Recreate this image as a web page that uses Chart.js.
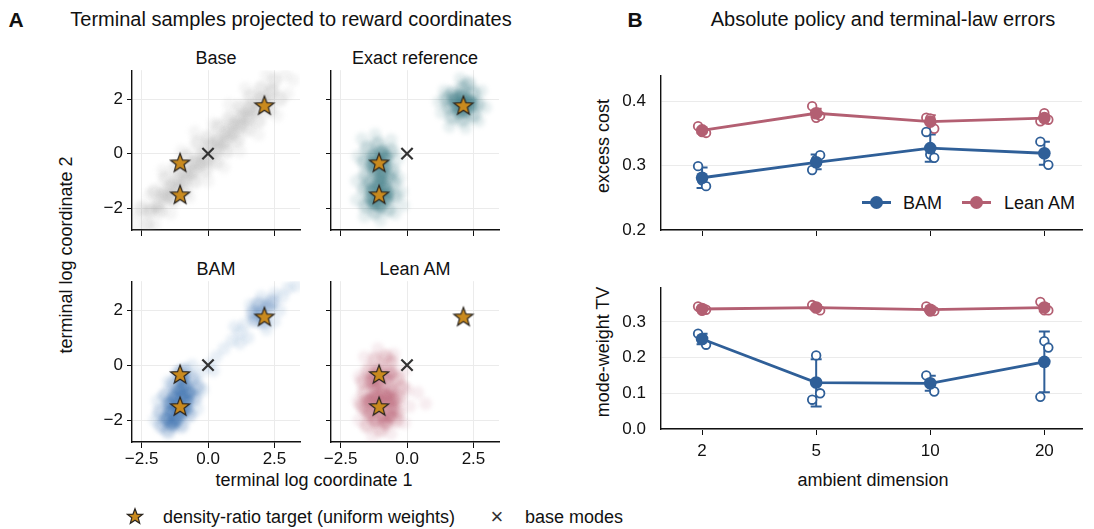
<!DOCTYPE html>
<html>
<head>
<meta charset="utf-8">
<script src="https://cdn.jsdelivr.net/npm/chart.js@4/dist/chart.umd.min.js"></script>
<style>
  body { margin: 0; background: #fff; width: 1094px; height: 529px; position: relative; overflow: hidden;
         font-family: "Liberation Sans", Arial, sans-serif; color: #111; }
  canvas.plot { position: absolute; }
  .t { position: absolute; white-space: nowrap; line-height: 1; transform: translate(-50%, -50%); }
  .l { position: absolute; white-space: nowrap; line-height: 1; transform: translate(0, -50%); font-size: 18px; }
  .rot { transform: translate(-50%, -50%) rotate(-90deg); }
  .sw { position: absolute; }
</style>
</head>
<body>
<div class="t" style="left:16px;top:19px;font-size:21px;font-weight:bold">A</div>
<div class="t" style="left:291px;top:19px;font-size:20px">Terminal samples projected to reward coordinates</div>
<div class="t" style="left:635px;top:19px;font-size:21px;font-weight:bold">B</div>
<div class="t" style="left:883px;top:19px;font-size:20px">Absolute policy and terminal-law errors</div>

<div class="t" style="left:216px;top:58px;font-size:18px">Base</div>
<div class="t" style="left:415px;top:58px;font-size:18px">Exact reference</div>
<div class="t" style="left:216px;top:269px;font-size:18px">BAM</div>
<div class="t" style="left:415px;top:269px;font-size:18px">Lean AM</div>
<div class="t rot" style="left:66px;top:255px;font-size:18px">terminal log coordinate 2</div>
<div class="t" style="left:314px;top:480px;font-size:18px">terminal log coordinate 1</div>

<div class="t rot" style="left:603px;top:146px;font-size:18px">excess cost</div>
<div class="t rot" style="left:603px;top:352px;font-size:18px">mode-weight TV</div>
<div class="t" style="left:873px;top:480px;font-size:18px">ambient dimension</div>

<!-- legend panel B -->
<div class="sw" style="left:862px;top:201px;width:29px;height:3px;background:#2f5f98"></div>
<div class="sw" style="left:870px;top:196px;width:13px;height:13px;border-radius:50%;background:#2f5f98"></div>
<div class="l" style="left:903px;top:203px">BAM</div>
<div class="sw" style="left:962px;top:201px;width:29px;height:3px;background:#b35f72"></div>
<div class="sw" style="left:970px;top:196px;width:13px;height:13px;border-radius:50%;background:#b35f72"></div>
<div class="l" style="left:1004px;top:203px">Lean AM</div>

<!-- bottom legend -->
<canvas id="legStar" class="sw" width="18" height="18" style="left:126px;top:507px"></canvas>
<div class="l" style="left:163px;top:517px">density-ratio target (uniform weights)</div>
<div class="t" style="left:497px;top:517px;font-size:22px;color:#333">×</div>
<div class="l" style="left:525px;top:517px">base modes</div>

<script>
// ---------- panel A data (terminal samples) ----------
const TARGETS = [[-1.05, -0.32], [-1.05, -1.49], [2.12, 1.78]];
const BASE_MODES = [[0, 0]];

// each cloud: dense core, middle ring, sparse edge
const BASE_CORE = [[-2.2,-2.1],[-1.9,-1.9],[-1.7,-1.5],[-1.5,-1.6],[-1.4,-1.2],[-1.2,-1.3],[-1.1,-0.9],
  [-0.9,-1.0],[-0.8,-0.6],[-0.6,-0.7],[-0.5,-0.3],[-0.3,-0.4],[-0.2,0.0],[0.0,-0.2],[0.1,0.3],[0.3,0.1],
  [0.4,0.5],[0.6,0.4],[0.7,0.8],[0.9,0.7],[1.0,1.1],[1.2,1.0],[1.3,1.4],[1.5,1.3],[1.6,1.7],[1.8,1.6],
  [2.0,2.0],[2.2,1.9],[2.4,2.3]];
const BASE_MID = [[-2.5,-2.0],[-2.0,-1.4],[-1.6,-0.9],[-1.2,-0.5],[-0.8,-0.1],[-0.4,0.4],[0.0,0.6],
  [0.4,1.0],[0.8,1.3],[1.2,1.7],[1.6,2.1],[2.0,2.4],[2.5,2.7],[-2.3,-2.6],[-1.8,-2.1],[-1.3,-1.7],
  [-0.9,-1.4],[-0.5,-1.0],[-0.1,-0.6],[0.3,-0.3],[0.7,0.1],[1.1,0.5],[1.5,0.9],[1.9,1.2],[2.3,1.6],[2.7,2.0]];
const BASE_EDGE = [[-2.8,-2.8],[-2.7,-2.3],[-2.2,-1.5],[-1.7,-0.6],[-1.0,0.1],[-0.5,0.8],[0.2,1.1],
  [0.8,1.8],[1.4,2.4],[2.2,2.9],[2.9,2.9],[3.2,2.7],[3.0,2.2],[2.6,1.4],[1.9,0.7],[1.2,0.1],[0.6,-0.5],
  [0.0,-1.0],[-0.7,-1.6],[-1.4,-2.2],[-2.0,-2.6]];

const EXACT_CORE = [[2.1,1.85],[1.9,1.75],[2.3,1.95],[2.05,2.1],[2.2,1.6],[1.8,2.0],[2.4,1.8],[2.0,1.55],
  [-1.05,-0.3],[-1.25,-0.1],[-0.85,-0.45],[-1.2,-0.6],[-0.95,0.05],[-1.3,-0.4],[-0.8,-0.15],[-1.05,-1.5],
  [-1.3,-1.35],[-0.8,-1.65],[-1.2,-1.8],[-0.85,-1.25],[-1.35,-1.65],[-0.75,-1.45],[-1.0,-0.95],
  [-1.1,-1.15],[-0.95,-0.75],[-1.0,-1.9]];
const EXACT_MID = [[1.6,1.7],[1.7,2.2],[2.1,2.4],[2.5,2.2],[2.65,1.8],[2.5,1.4],[2.1,1.25],[1.7,1.35],
  [1.5,2.0],[2.3,2.55],[-1.6,-0.3],[-1.5,0.2],[-1.1,0.35],[-0.6,0.1],[-0.55,-0.6],[-1.55,-0.8],
  [-1.6,-1.3],[-1.55,-1.9],[-1.2,-2.15],[-0.7,-2.05],[-0.45,-1.55],[-0.5,-1.05],[-0.7,-0.85],[-1.4,-1.05]];
const EXACT_EDGE = [[1.3,1.5],[1.4,2.3],[2.0,2.75],[2.8,2.3],[2.95,1.7],[2.7,1.2],[2.2,0.95],[1.6,1.0],
  [1.2,1.9],[-1.85,-0.1],[-1.7,0.55],[-1.2,0.7],[-0.6,0.5],[-0.35,-0.2],[-0.3,-0.9],[-1.9,-1.0],
  [-1.9,-1.7],[-1.6,-2.3],[-1.0,-2.45],[-0.45,-2.2],[-0.2,-1.4],[-0.15,-1.9]];

const BAM_CORE = [[-1.2,-1.5],[-1.4,-1.7],[-1.0,-1.2],[-1.55,-1.95],[-1.25,-1.15],[-0.9,-0.8],
  [-1.05,-1.75],[-0.8,-1.3],[-1.45,-1.4],[-0.95,-0.5],[-1.2,-2.0],[-0.7,-1.0],[-1.1,-0.9],
  [-1.35,-2.15],[-0.85,-1.6]];
const BAM_MID = [[-1.75,-2.2],[-1.8,-1.7],[-1.6,-1.1],[-1.3,-0.7],[-0.9,-0.2],[-0.6,-0.5],[-0.5,-1.2],
  [-0.7,-1.8],[-1.0,-2.2],[-1.5,-2.4],[-0.4,-0.8],[-1.1,-0.3],[2.0,1.9],[1.8,1.65],[2.25,2.1],
  [2.1,1.6],[1.7,1.9],[2.4,2.3],[1.9,2.2]];
const BAM_EDGE = [[-2.0,-2.0],[-1.9,-1.3],[-1.5,-0.6],[-0.6,0.0],[-0.3,-0.3],[-0.2,-0.9],[-0.4,-1.6],
  [0.0,0.0],[0.3,0.3],[0.6,0.6],[0.9,0.9],[1.2,1.2],[1.4,1.5],[1.5,1.0],[1.2,0.8],[1.6,2.2],[2.0,2.5],
  [2.5,2.6],[2.8,2.5],[3.0,2.8],[3.3,2.9],[2.7,2.0],[2.5,1.6],[2.2,1.3],[1.0,1.4],[0.2,-0.2]];

const LEAN_CORE = [[-0.95,-1.05],[-1.2,-0.8],[-0.7,-1.35],[-1.1,-1.55],[-0.8,-0.5],[-1.3,-1.25],
  [-0.6,-0.9],[-1.0,-0.2],[-0.9,-1.85],[-1.35,-0.6],[-0.55,-1.6],[-1.2,-2.0],[-0.75,-1.1],
  [-1.15,-1.15],[-0.8,-2.1],[-1.4,-1.75],[-0.6,-0.3],[-1.45,-1.3],[-1.25,-0.35],[-0.5,-1.25],
  [-0.95,-1.4],[-0.65,-1.85],[-1.05,-0.65]];
const LEAN_MID = [[-1.6,-1.0],[-1.55,-1.6],[-1.45,-0.2],[-0.35,-0.5],[-0.3,-1.2],[-0.4,-2.0],
  [-1.0,-2.35],[-1.5,-2.2],[-1.2,0.2],[-0.8,0.3],[-0.35,-1.7],[-1.65,-0.6],[-1.7,-1.45],[-0.2,-0.8],
  [-0.6,0.1]];
const LEAN_EDGE = [[-1.85,-1.3],[-1.8,-0.4],[-1.6,0.3],[-1.1,0.6],[-0.5,0.4],[-0.1,-0.2],[0.0,-0.9],
  [0.1,-1.5],[-0.1,-2.1],[-0.6,-2.5],[-1.3,-2.6],[-1.8,-2.0],[0.4,-1.0],[0.7,-1.4]];

// ---------- panel B data ----------
const DIMS = ['2', '5', '10', '20'];
const COST_BAM = [0.281, 0.305, 0.327, 0.319];
const COST_BAM_LO = [0.265, 0.294, 0.306, 0.301];
const COST_BAM_HI = [0.297, 0.317, 0.348, 0.337];
const COST_BAM_SEEDS = [[0.299, 0.277, 0.268], [0.293, 0.309, 0.316], [0.352, 0.317, 0.312], [0.337, 0.319, 0.301]];
const COST_LEAN = [0.3545, 0.381, 0.368, 0.3735];
const COST_LEAN_LO = [0.350, 0.375, 0.358, 0.369];
const COST_LEAN_HI = [0.359, 0.388, 0.378, 0.378];
const COST_LEAN_SEEDS = [[0.361, 0.352, 0.3505], [0.392, 0.374, 0.377], [0.374, 0.373, 0.357], [0.3685, 0.381, 0.371]];

const TV_BAM = [0.252, 0.130, 0.128, 0.188];
const TV_BAM_LO = [0.237, 0.063, 0.107, 0.103];
const TV_BAM_HI = [0.267, 0.195, 0.149, 0.273];
const TV_BAM_SEEDS = [[0.267, 0.253, 0.236], [0.082, 0.206, 0.100], [0.150, 0.129, 0.105], [0.090, 0.246, 0.228]];
const TV_LEAN = [0.336, 0.340, 0.334, 0.340];
const TV_LEAN_LO = [0.331, 0.333, 0.328, 0.330];
const TV_LEAN_HI = [0.341, 0.347, 0.340, 0.350];
const TV_LEAN_SEEDS = [[0.343, 0.331, 0.334], [0.347, 0.341, 0.332], [0.343, 0.329, 0.330], [0.356, 0.332, 0.332]];

const JITTER = [-0.035, 0, 0.035];
const FONT = '"Liberation Sans", Arial, sans-serif';
const BLUE = '#2f5f98', ROSE = '#b35f72';

function starImage(size, R) {
  const c = document.createElement('canvas');
  c.width = c.height = size;
  const g = c.getContext('2d');
  g.translate(size / 2, size / 2 + R * 0.1);
  g.beginPath();
  for (let i = 0; i < 10; i++) {
    const r = i % 2 ? R * 0.42 : R;
    const a = -Math.PI / 2 + i * Math.PI / 5;
    g.lineTo(r * Math.cos(a), r * Math.sin(a));
  }
  g.closePath();
  g.fillStyle = '#c98a1e';
  g.fill();
  g.lineWidth = 1.2;
  g.strokeStyle = '#2a2520';
  g.stroke();
  return c;
}
const STAR = starImage(24, 10);
document.getElementById('legStar').getContext('2d').drawImage(starImage(18, 8), 0, 0);

// soften the sample clouds so overlapping dots read as a density
const cloudBlur = {
  id: 'cloudBlur',
  beforeDatasetDraw(chart, args) {
    const b = chart.data.datasets[args.index].blur;
    if (b) { chart.ctx.save(); chart.ctx.filter = `blur(${b}px)`; }
  },
  afterDatasetDraw(chart, args) {
    if (chart.data.datasets[args.index].blur) chart.ctx.restore();
  }
};

const pts = arr => arr.map(([x, y]) => ({ x, y }));

const AXW = 50, AXH = 32, PT = 12, PR = 12;

function axis(min, max, ticks, fmt, o) {
  return {
    type: 'linear', min, max,
    afterBuildTicks: s => { s.ticks = ticks.map(v => ({ value: v })); },
    afterFit: s => { if (s.isHorizontal()) s.height = AXH; else s.width = AXW; },
    border: { display: true, color: '#111', width: 1.4 },
    grid: { color: '#ebebeb', drawOnChartArea: o.grid, tickColor: '#111', tickLength: o.tl, lineWidth: 1 },
    ticks: { padding: o.pad, color: '#111', autoSkip: false, maxRotation: 0,
             font: { family: FONT, size: 17 }, callback: v => (o.labels ? fmt(v) : '') }
  };
}

function plot(box, datasets, xs, ys) {
  const c = document.createElement('canvas');
  c.className = 'plot';
  const w = box.r - box.l + AXW + PR, h = box.b - box.t + PT + AXH;
  c.width = w; c.height = h;
  c.style.left = (box.l - AXW) + 'px';
  c.style.top = (box.t - PT) + 'px';
  document.body.appendChild(c);
  new Chart(c, {
    type: 'scatter',
    data: { datasets },
    plugins: [cloudBlur],
    options: {
      responsive: false, animation: false, events: [],
      layout: { padding: { top: PT, right: PR, left: 0, bottom: 0 } },
      plugins: { legend: { display: false }, tooltip: { enabled: false } },
      scales: { x: xs, y: ys }
    }
  });
}

// ---------- panel A ----------
const minus = v => (v < 0 ? '\u2212' : '') + Math.abs(v);
const fmtX = v => (v < 0 ? '\u2212' : '') + Math.abs(v).toFixed(1);

function samplePanel(box, cloud, rgb, alphas, xLabels, yLabels) {
  const [core, mid, edge] = cloud;
  const dot = (d, a, r, order) => ({ data: pts(d), pointRadius: r, pointBorderWidth: 0, blur: 2,
                                     pointBackgroundColor: `rgba(${rgb},${a})`, order });
  const ds = [
    dot(edge, alphas[2], 6.5, 6),
    dot(mid, alphas[1], 7.5, 5),
    dot(core, alphas[0], 7, 4),
    { data: pts(BASE_MODES), pointStyle: 'crossRot', pointRadius: 8, pointBorderWidth: 2.2, pointBorderColor: '#333', order: 2 },
    { data: pts(TARGETS), pointStyle: STAR, order: 1 }
  ];
  plot(box, ds,
    axis(-2.86, 3.46, [-2.5, 0, 2.5], fmtX, { grid: true, tl: 6, pad: 1, labels: xLabels }),
    axis(-2.8, 3.06, [-2, 0, 2], minus, { grid: true, tl: 5, pad: 4, labels: yLabels }));
}

samplePanel({ l: 132, t: 68, r: 300, b: 230 }, [BASE_CORE, BASE_MID, BASE_EDGE], '155,155,155', [0.28, 0.2, 0.1], false, true);
samplePanel({ l: 331, t: 68, r: 499, b: 230 }, [EXACT_CORE, EXACT_MID, EXACT_EDGE], '60,122,132', [0.5, 0.28, 0.12], false, false);
samplePanel({ l: 132, t: 279, r: 300, b: 442 }, [BAM_CORE, BAM_MID, BAM_EDGE], '50,105,170', [0.52, 0.26, 0.11], true, true);
samplePanel({ l: 331, t: 279, r: 499, b: 442 }, [LEAN_CORE, LEAN_MID, LEAN_EDGE], '185,95,115', [0.45, 0.27, 0.11], true, false);

// ---------- panel B ----------
function seriesSets(mean, lo, hi, seeds, color) {
  const out = [];
  mean.forEach((m, i) => {
    out.push({ data: [{ x: i, y: lo[i] }, { x: i, y: hi[i] }], showLine: true, borderColor: color, borderWidth: 2,
               pointStyle: 'line', pointRadius: 5.5, pointBorderWidth: 2, pointBorderColor: color, order: 2 });
  });
  const sp = [];
  seeds.forEach((row, i) => row.forEach((v, j) => sp.push({ x: i + JITTER[j], y: v })));
  out.push({ data: sp, pointRadius: 4.3, pointBorderWidth: 1.8, pointBorderColor: color,
             pointBackgroundColor: '#fff', order: 1 });
  out.push({ data: mean.map((v, i) => ({ x: i, y: v })), showLine: true, borderColor: color, borderWidth: 2.8,
             pointRadius: 6.3, pointBackgroundColor: color, pointBorderColor: color, pointBorderWidth: 0, order: 0 });
  return out;
}
const fmtDim = v => DIMS[v] ?? '';
const fmt1 = v => v.toFixed(1);

plot({ l: 661, t: 62, r: 1082, b: 230 },
  [...seriesSets(COST_BAM, COST_BAM_LO, COST_BAM_HI, COST_BAM_SEEDS, BLUE),
   ...seriesSets(COST_LEAN, COST_LEAN_LO, COST_LEAN_HI, COST_LEAN_SEEDS, ROSE)],
  axis(-0.36, 3.33, [0, 1, 2, 3], fmtDim, { grid: false, tl: 6, pad: 6, labels: false }),
  axis(0.2, 0.44, [0.2, 0.3, 0.4], fmt1, { grid: true, tl: 0, pad: 15, labels: true }));

plot({ l: 661, t: 274, r: 1082, b: 429 },
  [...seriesSets(TV_BAM, TV_BAM_LO, TV_BAM_HI, TV_BAM_SEEDS, BLUE),
   ...seriesSets(TV_LEAN, TV_LEAN_LO, TV_LEAN_HI, TV_LEAN_SEEDS, ROSE)],
  axis(-0.36, 3.33, [0, 1, 2, 3], fmtDim, { grid: false, tl: 6, pad: 6, labels: true }),
  axis(0, 0.397, [0, 0.1, 0.2, 0.3], fmt1, { grid: true, tl: 0, pad: 15, labels: true }));
</script>
</body>
</html>
